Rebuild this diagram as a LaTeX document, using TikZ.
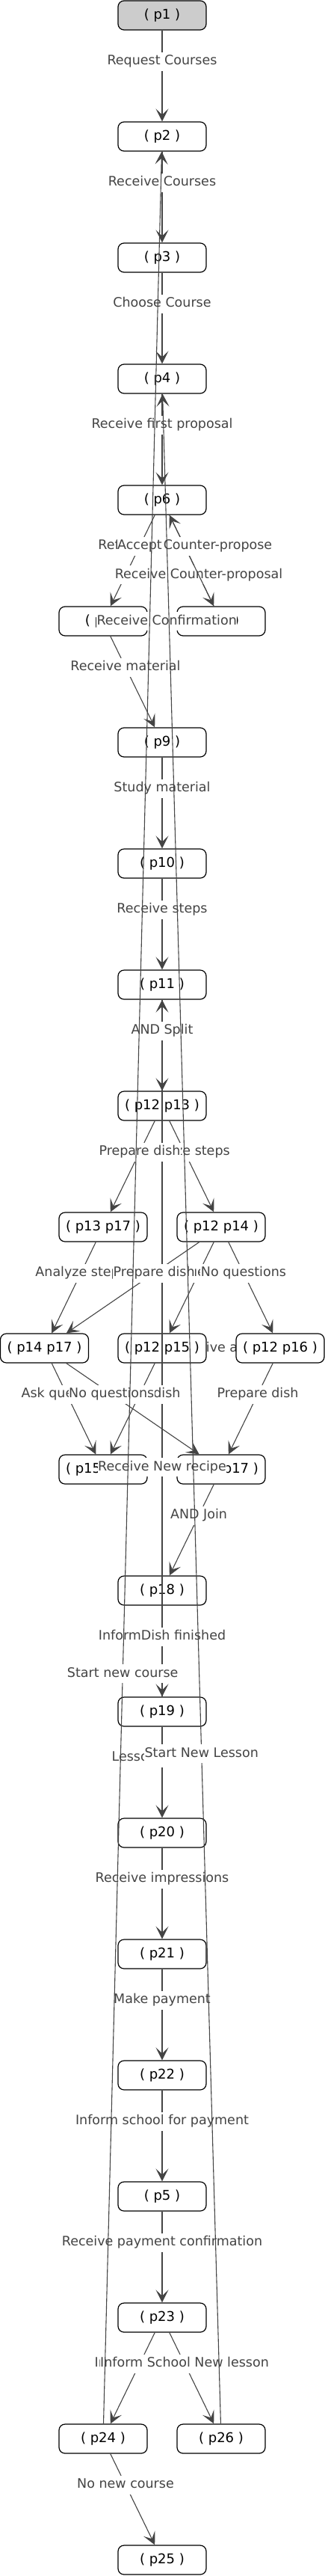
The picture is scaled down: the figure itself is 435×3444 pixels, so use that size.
\documentclass[tikz,border=0pt]{standalone}
\usepackage{fontspec}
\setmainfont{DejaVu Sans}
\usetikzlibrary{arrows.meta}
\pgfdeclarelayer{background}
\pgfsetlayers{background,main}
\definecolor{edgecol}{HTML}{444444}
\definecolor{startfill}{HTML}{CCCCCC}
\begin{document}
\begin{tikzpicture}[x=1pt,y=-1pt,
  pnode/.style={draw=black, line width=1.2pt, rounded corners=8pt, fill=white,
    minimum width=118pt, minimum height=39pt, inner sep=0pt,
    font=\fontsize{18}{22}\selectfont, text=black},
  conn/.style={draw=edgecol, line width=1.1pt, -{Stealth[length=17pt,width=17pt,inset=8pt]}},
  lblfree/.style={fill=white, text=edgecol, font=\fontsize{17.5}{21}\selectfont,
    inner xsep=0.5pt, inner ysep=4pt, text height=13pt, text depth=4pt},
  lbl/.style={lblfree, pos=0.34},
]
\useasboundingbox (0,0) rectangle (435,3444);
% nodes
\node[pnode, fill=startfill] (p1) at (217,20.5) {( p1 )};
\node[pnode] (p2) at (217,182.5) {( p2 )};
\node[pnode] (p3) at (217,344.5) {( p3 )};
\node[pnode] (p4) at (217,506.5) {( p4 )};
\node[pnode] (p6) at (217,668.5) {( p6 )};
\node[pnode] (p7) at (138,830.5) {( p7 )};
\node[pnode] (p8) at (296,830.5) {( p8 )};
\node[pnode] (p9) at (217,992.5) {( p9 )};
\node[pnode] (p10) at (217,1154.5) {( p10 )};
\node[pnode] (p11) at (217,1316.5) {( p11 )};
\node[pnode] (p1213) at (217,1478.5) {( p12 p13 )};
\node[pnode] (p1317) at (138,1640.5) {( p13 p17 )};
\node[pnode] (p1214) at (296,1640.5) {( p12 p14 )};
\node[pnode] (p1417) at (59.5,1802.5) {( p14 p17 )};
\node[pnode] (p1215) at (217,1802.5) {( p12 p15 )};
\node[pnode] (p1216) at (375,1802.5) {( p12 p16 )};
\node[pnode] (p1517) at (138,1964.5) {( p15 p17 )};
\node[pnode] (p1617) at (296,1964.5) {( p16 p17 )};
\node[pnode] (p18) at (217,2126.5) {( p18 )};
\node[pnode] (p19) at (217,2288.5) {( p19 )};
\node[pnode] (p20) at (217,2450.5) {( p20 )};
\node[pnode] (p21) at (217,2612.5) {( p21 )};
\node[pnode] (p22) at (217,2774.5) {( p22 )};
\node[pnode] (p5) at (217,2936.5) {( p5 )};
\node[pnode] (p23) at (217,3098.5) {( p23 )};
\node[pnode] (p24) at (138,3260.5) {( p24 )};
\node[pnode] (p26) at (296,3260.5) {( p26 )};
\node[pnode] (p25) at (217,3422.5) {( p25 )};
% edge hidden behind nodes
\begin{pgfonlayer}{background}
\draw[conn] (p1215) -- node[lbl,pos=0.58]{Receive advice} (p1216);
\end{pgfonlayer}
% edges
\draw[conn] (p1) -- node[lbl]{Request Courses} (p2);
\draw[conn] (p2) -- node[lbl]{Receive Courses} (p3);
\draw[conn] (p3) -- node[lbl]{Choose Course} (p4);
\draw[conn] (p4) -- node[lbl]{Receive first proposal} (p6);
\node[lblfree] (lrefuse) at (161,730) {Refuse};
\draw[conn] (p6) -- node[lbl]{Accept} (p7);
\draw[conn] (p8) -- node[lbl]{Receive Counter-proposal} (p6);
\draw[conn] (p6) -- (p8);
\node[lblfree] (lcounter) at (291.5,730) {Counter-propose};
\draw[conn] (p8) -- node[lbl]{Receive Confirmation} (p7);
\draw[conn] (p7) -- node[lbl]{Receive material} (p9);
\draw[conn] (p9) -- node[lbl]{Study material} (p10);
\draw[conn] (p10) -- node[lbl]{Receive steps} (p11);
\draw[conn] (p19) -- node[lbl,pos=0.329]{Receive New recipe} (p11);
\draw[conn] (p11) -- node[lbl]{AND Split} (p1213);
\draw[conn] (p1213) -- node[lbl]{Analyze steps} (p1214);
\draw[conn] (p1213) -- node[lbl]{Prepare dish} (p1317);
\draw[conn] (p1214) -- node[lbl]{Ask questions} (p1215);
\draw[conn] (p1317) -- node[lbl]{Analyze steps} (p1417);
\draw[conn] (p1214) -- node[lbl]{Prepare dish} (p1417);
\draw[conn] (p1214) -- node[lbl]{No questions} (p1216);
\draw[conn] (p1417) -- node[lbl]{Ask questions} (p1517);
\draw[conn] (p1215) -- node[lbl]{Prepare dish} (p1517);
\draw[conn] (p1417) -- node[lbl]{No questions} (p1617);
\draw[conn] (p1216) -- node[lbl]{Prepare dish} (p1617);
\draw[conn] (p1617) -- node[lbl]{AND Join} (p18);
\draw[conn] (p18) -- node[lbl]{InformDish finished} (p19);
\draw[conn] (p19) -- node[lbl]{Lesson finished} (p20);
\draw[conn] (p20) -- node[lbl]{Receive impressions} (p21);
\draw[conn] (p21) -- node[lbl]{Make payment} (p22);
\draw[conn] (p22) -- node[lbl]{Inform school for payment} (p5);
\draw[conn] (p5) -- node[lbl]{Receive payment confirmation} (p23);
\draw[conn] (p23) -- node[lbl]{Inform School} (p24);
\draw[conn] (p23) -- node[lbl]{Inform School New lesson} (p26);
\draw[conn] (p24) -- node[lbl]{No new course} (p25);
% long return edges on top
\draw[conn] (p24) -- node[lbl,pos=0.33]{Start new course} (p2);
\draw[conn] (p26) -- node[lbl,pos=0.33]{Start New Lesson} (p4);
\end{tikzpicture}
\end{document}
